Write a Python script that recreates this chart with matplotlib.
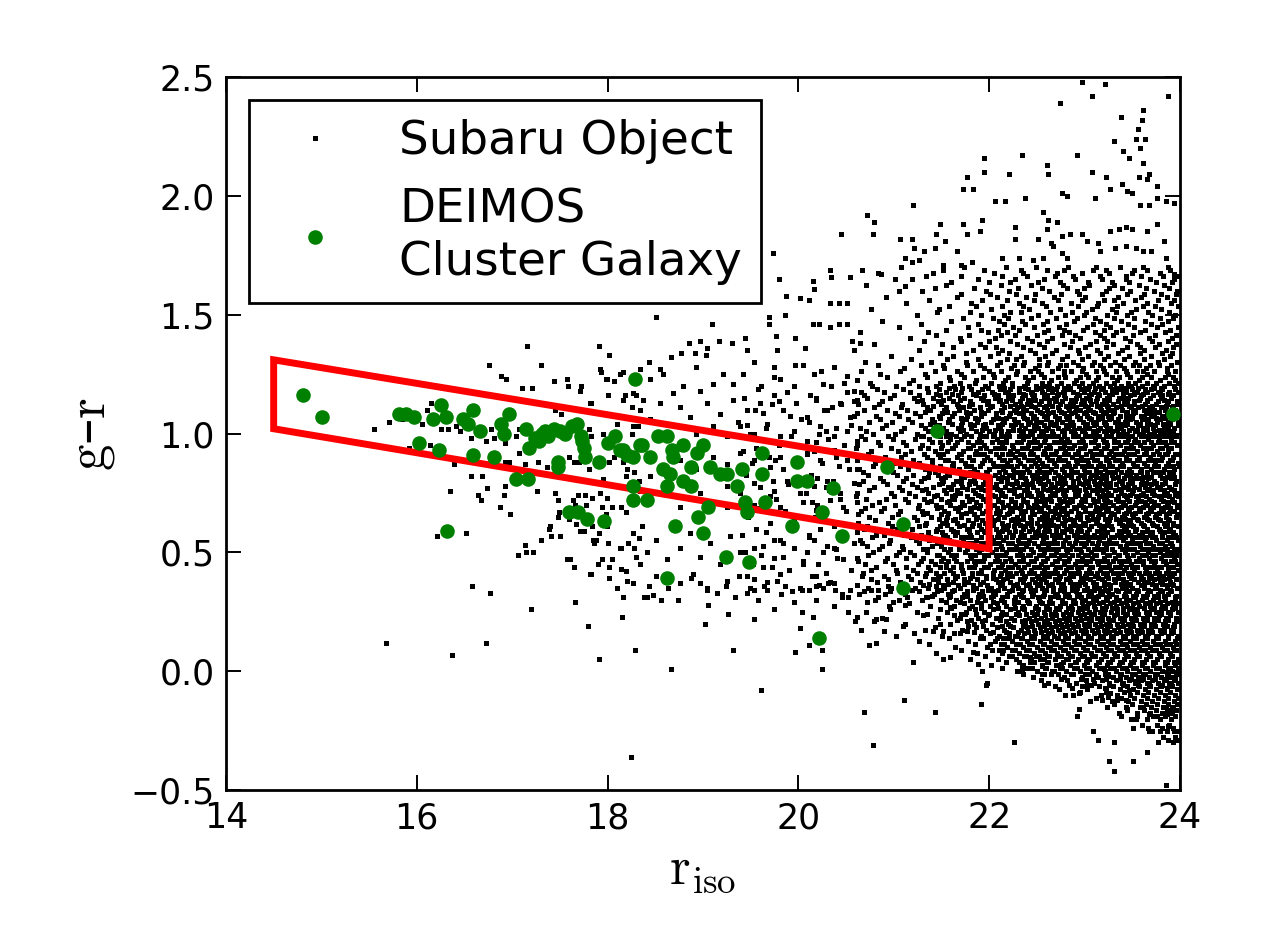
import matplotlib
matplotlib.use("Agg")
import matplotlib.pyplot as plt

# DEIMOS cluster galaxies (r_iso, g-r)
deimos_r = [14.81, 15.01, 15.81, 15.89, 15.97, 16.02, 16.17, 16.23, 16.25, 16.31, 16.32, 16.48, 16.54, 16.59,
            16.59, 16.66, 16.81, 16.88, 16.91, 16.97, 17.04, 17.14, 17.17, 17.18, 17.28, 17.34, 17.48, 17.48,
            17.50, 17.60, 17.68, 17.69, 17.73, 17.76, 17.78, 17.91, 17.96, 18.00, 18.08, 18.16, 18.27, 18.27,
            18.27, 18.29, 18.36, 18.41, 18.44, 18.53, 18.58, 18.62, 18.62, 18.62, 18.65, 18.68, 18.69, 18.71,
            18.79, 18.79, 18.88, 18.88, 18.94, 18.95, 19.00, 19.00, 19.05, 19.07, 19.18, 19.24, 19.25, 19.36,
            19.41, 19.44, 19.46, 19.48, 19.62, 19.62, 19.65, 19.93, 19.99, 19.99, 20.09, 20.22, 20.25, 20.36,
            20.46, 20.93, 21.10, 21.10, 21.45, 23.93,
            17.24, 17.31, 17.38, 17.44, 17.55, 17.63, 17.72, 17.75, 18.13, 18.20, 18.34]
deimos_gr = [1.16, 1.07, 1.08, 1.08, 1.07, 0.96, 1.06, 0.93, 1.12, 1.07, 0.59, 1.06, 1.04, 1.10,
             0.91, 1.01, 0.90, 1.04, 1.00, 1.08, 0.81, 1.02, 0.81, 0.94, 0.97, 1.01, 0.88, 0.86,
             1.01, 0.67, 1.04, 0.67, 0.97, 0.90, 0.64, 0.88, 0.63, 0.96, 0.99, 0.93, 0.90, 0.78,
             0.72, 1.23, 0.95, 0.72, 0.90, 0.99, 0.85, 0.99, 0.78, 0.39, 0.83, 0.93, 0.90, 0.61,
             0.95, 0.80, 0.86, 0.78, 0.92, 0.65, 0.95, 0.58, 0.69, 0.86, 0.83, 0.48, 0.83, 0.78,
             0.85, 0.71, 0.67, 0.46, 0.92, 0.83, 0.71, 0.61, 0.88, 0.80, 0.80, 0.14, 0.67, 0.77,
             0.57, 0.86, 0.62, 0.35, 1.01, 1.08,
             0.98, 1.00, 0.99, 1.02, 1.00, 1.03, 0.99, 0.94, 0.93, 0.91, 0.95]

# red selection box corners
box_r = [14.5, 22.0, 22.0, 14.5]
box_gr = [1.31, 0.815, 0.515, 1.02]

# Subaru objects read individually (sparse parts of the cloud)
subaru_pts = [
    (17.16, 1.37), (17.91, 1.37), (18.01, 1.33), (16.76, 1.29), (17.30, 1.29), (16.88, 1.24), (16.94, 1.23),
    (17.44, 1.22), (17.57, 1.23), (17.59, 1.20), (17.72, 1.20), (17.10, 1.19), (17.21, 1.19), (17.93, 1.26),
    (17.98, 1.23), (18.07, 1.22), (18.16, 1.26), (18.00, 1.16), (18.18, 1.16), (17.83, 1.13), (18.27, 1.17),
    (18.30, 1.16), (18.26, 1.11), (18.37, 1.14), (17.45, 1.10), (17.51, 1.08), (16.11, 1.10), (16.15, 1.13),
    (15.71, 1.05), (15.85, 1.06), (15.55, 1.02), (16.06, 1.04), (16.25, 1.02), (16.33, 1.02), (16.41, 1.03),
    (16.45, 1.01), (16.57, 0.98), (16.73, 0.97), (16.81, 0.98), (16.78, 1.02), (16.92, 0.96), (17.04, 0.99),
    (17.07, 1.02), (17.83, 0.99), (17.81, 1.02), (17.95, 1.00), (18.10, 1.04), (18.26, 1.00), (18.32, 1.03),
    (15.92, 0.94), (16.14, 0.95), (16.39, 0.87), (16.57, 0.82), (16.68, 0.82), (16.97, 0.88), (16.92, 0.88),
    (17.07, 0.92), (17.13, 0.87), (17.27, 0.88), (17.37, 0.86), (17.60, 0.90), (17.65, 0.88), (17.70, 0.88),
    (17.81, 0.85), (17.95, 0.81), (18.02, 0.88), (18.07, 0.90), (18.16, 0.88), (18.19, 0.82), (18.28, 0.84),
    (18.33, 0.80), (16.35, 0.76), (16.64, 0.74), (16.67, 0.72), (16.74, 0.77), (16.91, 0.74), (16.93, 0.78),
    (16.87, 0.69), (16.98, 0.66), (17.26, 0.76), (17.45, 0.75), (17.48, 0.72), (17.49, 0.67), (17.48, 0.65),
    (17.69, 0.74), (17.76, 0.74), (17.84, 0.73), (17.66, 0.70), (17.77, 0.70), (17.94, 0.69), (17.98, 0.66),
    (18.05, 0.69), (18.14, 0.69), (18.19, 0.67), (18.25, 0.71), (17.99, 0.73), (17.60, 0.64), (17.67, 0.62),
    (17.75, 0.59), (17.84, 0.61), (17.91, 0.58), (17.86, 0.54), (16.21, 0.57), (16.52, 0.58), (17.30, 0.55),
    (17.39, 0.60), (17.41, 0.57), (17.13, 0.53), (17.06, 0.49), (17.14, 0.50), (17.22, 0.50), (17.88, 0.55),
    (18.00, 0.54), (18.14, 0.52), (18.21, 0.54), (18.28, 0.52), (18.36, 0.61), (18.33, 0.56), (17.58, 0.47),
    (17.65, 0.44), (17.83, 0.41), (17.90, 0.45), (17.94, 0.47), (18.05, 0.47), (18.14, 0.43), (18.19, 0.42),
    (18.30, 0.48), (18.02, 0.39), (18.10, 0.35), (18.27, 0.37), (16.58, 0.36), (16.77, 0.33), (17.20, 0.26),
    (17.66, 0.29), (17.79, 0.19), (18.15, 0.23), (18.16, 0.31), (18.38, 0.31), (15.68, 0.12), (16.37, 0.07),
    (16.73, 0.12), (17.91, 0.05), (18.29, 0.09), (18.25, -0.36),
    # upper part
    (22.97, 2.48), (23.21, 2.47), (23.08, 2.42), (22.74, 2.39), (23.88, 2.42), (23.61, 2.36), (23.60, 2.32),
    (23.38, 2.33), (23.56, 2.28), (23.54, 2.24), (23.63, 2.24), (23.31, 2.23), (23.40, 2.19), (23.58, 2.20),
    (23.47, 2.16), (23.61, 2.14), (22.92, 2.17), (22.34, 2.17), (21.95, 2.16), (22.61, 2.13), (22.62, 2.09),
    (21.95, 2.10), (21.77, 2.08), (21.73, 2.03), (21.83, 2.03), (22.21, 2.09), (23.08, 2.10), (23.23, 2.08),
    (23.27, 2.03), (23.39, 2.05), (23.45, 2.02), (23.50, 2.01), (23.57, 2.08), (23.65, 2.07), (23.68, 2.09),
    (23.76, 2.04), (22.76, 2.01), (22.82, 2.00), (22.06, 1.98), (22.17, 1.98), (22.38, 1.99), (23.11, 1.99),
    (23.58, 1.96), (23.68, 1.96), (23.76, 1.99), (23.85, 1.98), (23.94, 1.97), (21.20, 1.96), (20.72, 1.92),
    (20.79, 1.89), (20.45, 1.84), (20.78, 1.84), (21.48, 1.88), (21.44, 1.84), (21.54, 1.81), (21.73, 1.88),
    (21.77, 1.84), (21.90, 1.85), (21.93, 1.90), (22.27, 1.87), (22.27, 1.82), (22.56, 1.93), (22.62, 1.90),
    (22.71, 1.89), (22.61, 1.86), (22.65, 1.80), (22.51, 1.82), (22.76, 1.83), (22.85, 1.84), (22.97, 1.84),
    (23.03, 1.81), (23.14, 1.80), (23.16, 1.77), (23.27, 1.85), (23.36, 1.86), (23.43, 1.87), (23.50, 1.86),
    (23.65, 1.85), (23.76, 1.88), (23.83, 1.81), (23.32, 1.78), (23.43, 1.79), (23.54, 1.78), (23.61, 1.77),
    (23.70, 1.77), (23.85, 1.74), (23.94, 1.67), (21.07, 1.82), (21.19, 1.82), (21.21, 1.78), (21.32, 1.77),
    (21.43, 1.78), (21.12, 1.74), (21.19, 1.72), (21.26, 1.73), (21.52, 1.71), (21.70, 1.71), (21.82, 1.72),
    (21.66, 1.77), (22.13, 1.74), (22.31, 1.74), (22.46, 1.73), (22.56, 1.74), (22.67, 1.79), (22.76, 1.76),
    (22.82, 1.74), (20.33, 1.69), (20.34, 1.66), (20.15, 1.64), (20.16, 1.61), (20.54, 1.66), (20.67, 1.69),
    (20.87, 1.67), (21.01, 1.65), (21.12, 1.62), (21.05, 1.60), (19.80, 1.65), (19.73, 1.76), (19.87, 1.58),
    (20.02, 1.57), (20.11, 1.56), (20.33, 1.55), (20.43, 1.55), (20.51, 1.55), (19.69, 1.49), (19.86, 1.50),
    (19.10, 1.46), (18.51, 1.49), (18.85, 1.38), (18.97, 1.39), (19.04, 1.36), (19.17, 1.39), (19.30, 1.38),
    (19.44, 1.40), (19.46, 1.35), (18.66, 1.32), (18.77, 1.34), (18.92, 1.34), (19.03, 1.33), (19.69, 1.46),
    (19.77, 1.41), (19.78, 1.35), (19.96, 1.40), (20.07, 1.36), (20.15, 1.46), (20.22, 1.46), (20.33, 1.45),
    (20.43, 1.46), (20.51, 1.46), (20.56, 1.39), (20.65, 1.38), (18.55, 1.27), (18.43, 1.30),
    # lower part
    (18.66, 0.01), (19.61, -0.08), (19.31, 0.09), (19.02, 0.20), (19.26, 0.24), (19.53, 0.22), (19.75, 0.26),
    (20.04, 0.25), (20.15, 0.23), (20.02, 0.18), (19.97, 0.08), (20.11, 0.11), (20.25, 0.09), (20.25, 0.01),
    (20.69, -0.17), (20.78, -0.31), (21.11, -0.12), (21.20, 0.04), (21.10, 0.19), (21.43, -0.17), (21.52, 0.05),
    (21.59, 0.06), (21.91, -0.14), (21.97, -0.06), (21.98, -0.05), (21.88, 0.03), (21.83, 0.08), (22.26, -0.30),
    (22.15, 0.09), (22.34, 0.02), (22.34, 0.00), (22.43, 0.06), (22.53, 0.05), (22.55, 0.02), (22.55, -0.01),
    (22.68, 0.00), (22.58, -0.06), (22.75, 0.03), (22.83, 0.05), (22.80, -0.10), (22.87, -0.07), (22.94, -0.09),
    (23.03, -0.06), (22.92, -0.19), (22.94, -0.16), (23.09, -0.25), (23.14, -0.29), (23.26, -0.38), (23.31, -0.42),
    (23.31, -0.30), (23.51, -0.38), (23.66, -0.34), (23.85, -0.48), (23.38, -0.19), (23.45, -0.16), (23.54, -0.20),
    (23.51, -0.24), (23.18, -0.12), (23.25, -0.11), (23.34, -0.12), (23.43, -0.12), (23.68, -0.18), (23.76, -0.19),
    (23.86, -0.18), (23.92, -0.16), (23.68, -0.25), (23.79, -0.25), (23.88, -0.23), (23.94, -0.25), (23.61, -0.15),
    (23.76, -0.14), (23.85, -0.15), (18.41, 0.31), (18.48, 0.32), (18.56, 0.30), (18.74, 0.30), (18.43, 0.36),
    (18.63, 0.35), (18.76, 0.37), (18.88, 0.39), (18.97, 0.37), (19.04, 0.35), (19.05, 0.28), (19.15, 0.33),
    (19.24, 0.36), (19.34, 0.31), (19.46, 0.33), (19.53, 0.34), (19.64, 0.36), (19.78, 0.38), (19.86, 0.36),
    (19.95, 0.29), (20.04, 0.34), (20.11, 0.34), (20.18, 0.36), (20.31, 0.37), (20.38, 0.34), (20.52, 0.31),
    (20.52, 0.25), (20.61, 0.23), (20.59, 0.21), (20.76, 0.34), (20.83, 0.34), (20.94, 0.36), (20.72, 0.29),
    (20.81, 0.22), (20.92, 0.22), (20.90, 0.17), (20.74, 0.11), (20.81, 0.12), (20.99, 0.29), (21.12, 0.28),
    (21.19, 0.34), (21.34, 0.31), (21.44, 0.36), (21.35, 0.24), (21.48, 0.20), (21.41, 0.17), (21.52, 0.17),
    (21.63, 0.16), (21.59, 0.27), (21.70, 0.24), (21.75, 0.24), (21.77, 0.17), (22.20, 0.14), (22.29, 0.15),
    (22.64, 0.10), (22.71, 0.07), (22.78, 0.09), (23.03, 0.05), (23.20, 0.01), (23.25, -0.02), (23.21, -0.07),
    (23.27, -0.09), (23.39, -0.05), (23.47, -0.08), (23.54, -0.04), (23.61, -0.01), (23.79, -0.06), (23.86, -0.07),
    # middle part
    (18.93, 1.28), (19.21, 1.25), (19.32, 1.21), (19.42, 1.25), (19.53, 1.30), (19.74, 1.28), (19.81, 1.23),
    (19.95, 1.20), (20.05, 1.29), (20.16, 1.25), (20.26, 1.21), (20.37, 1.28), (20.51, 1.24), (20.58, 1.18),
    (18.97, 1.18), (19.11, 1.21), (18.69, 1.17), (18.79, 1.20), (18.58, 1.25), (18.44, 1.23), (18.34, 1.27),
    (18.13, 1.25), (17.99, 1.23), (17.92, 1.27), (18.76, 1.11), (18.86, 1.07), (19.04, 1.13), (19.18, 1.08),
    (19.32, 1.14), (19.46, 1.10), (19.60, 1.13), (19.74, 1.16), (19.84, 1.10), (19.98, 1.13), (20.09, 1.07),
    (20.19, 1.14), (20.30, 1.10), (20.44, 1.13), (20.54, 1.07), (20.61, 1.14), (18.93, 1.00), (19.11, 1.03),
    (19.25, 0.99), (19.39, 1.03), (19.53, 1.00), (19.67, 1.04), (19.81, 0.99), (19.95, 1.01), (20.09, 0.97),
    (20.23, 1.03), (20.37, 0.99), (20.51, 1.01), (20.61, 0.97), (18.55, 1.13), (18.44, 1.06), (18.34, 1.10),
    (18.27, 1.03), (18.16, 1.14), (17.82, 1.13), (17.71, 1.18), (18.76, 0.89), (18.93, 0.85), (19.11, 0.90),
    (19.25, 0.87), (19.39, 0.92), (19.53, 0.89), (19.70, 0.86), (19.81, 0.90), (19.95, 0.87), (20.09, 0.92),
    (20.23, 0.89), (20.37, 0.93), (20.51, 0.89), (20.61, 0.85), (19.25, 0.78), (19.39, 0.75), (19.53, 0.79),
    (19.74, 0.76), (19.88, 0.80), (20.02, 0.75), (20.16, 0.78), (20.30, 0.80), (20.44, 0.75), (20.58, 0.79),
    (18.97, 0.75), (18.76, 0.69), (19.11, 0.71), (19.25, 0.69), (19.46, 0.68), (19.67, 0.71), (19.81, 0.69),
    (20.05, 0.71), (20.19, 0.68), (20.33, 0.72), (20.47, 0.69), (20.61, 0.71), (18.44, 0.82), (18.34, 0.76),
    (18.20, 0.85), (18.09, 0.78), (17.92, 0.75), (17.82, 0.80), (17.64, 0.72), (17.40, 0.61), (17.50, 0.57),
    (17.71, 0.59), (17.85, 0.55), (17.99, 0.61), (18.13, 0.52), (18.27, 0.58), (18.41, 0.50), (18.51, 0.55),
    (18.62, 0.47), (18.76, 0.52), (18.86, 0.58), (18.97, 0.48), (19.07, 0.54), (19.18, 0.45), (19.28, 0.57),
    (19.39, 0.50), (19.53, 0.52), (19.63, 0.44), (19.74, 0.55), (19.84, 0.48), (19.95, 0.52), (20.05, 0.45),
    (20.16, 0.55), (20.26, 0.50), (20.37, 0.52), (20.47, 0.47), (20.58, 0.54), (17.61, 0.47), (17.82, 0.41),
    (18.02, 0.44), (18.20, 0.38), (18.34, 0.45), (18.51, 0.40), (18.76, 0.37), (18.90, 0.41), (19.04, 0.34),
    (19.25, 0.38), (19.46, 0.40), (19.67, 0.34), (19.81, 0.41), (20.02, 0.35), (20.19, 0.40), (20.37, 0.37),
    (20.54, 0.34),
]

# Subaru objects in the crowded part, read row by row: (g-r, [r_iso, ...])
subaru_rows = [
    (1.700, [21.08, 21.74, 22.18, 22.49, 22.83, 23.12, 23.37, 23.61, 23.88]),
    (1.675, [20.83, 21.41, 22.05, 22.36, 22.71, 22.97, 23.26, 23.50, 23.79]),
    (1.650, [21.19, 21.88, 22.27, 22.58, 22.90, 23.18, 23.43, 23.69, 23.94]),
    (1.625, [20.71, 21.55, 22.12, 22.44, 22.77, 23.05, 23.31, 23.57, 23.83]),
    (1.600, [21.30, 21.97, 22.21, 22.63, 22.92, 23.22, 23.48, 23.73, 23.97]),
    (1.575, [20.92, 21.66, 22.08, 22.39, 22.68, 23.01, 23.35, 23.59, 23.86]),
    (1.550, [21.13, 21.81, 22.31, 22.55, 22.86, 23.14, 23.40, 23.66, 23.91]),
    (1.525, [20.76, 21.47, 22.02, 22.42, 22.74, 23.08, 23.29, 23.54, 23.80]),
    (1.500, [21.24, 21.92, 22.16, 22.51, 22.80, 22.99, 23.24, 23.45, 23.71, 23.95]),
    (1.475, [20.88, 21.60, 22.10, 22.34, 22.61, 22.89, 23.16, 23.38, 23.63, 23.87]),
    (1.450, [21.05, 21.78, 22.25, 22.47, 22.73, 23.03, 23.27, 23.52, 23.76, 23.98]),
    (1.425, [20.65, 21.36, 21.99, 22.19, 22.57, 22.84, 23.11, 23.33, 23.58, 23.84]),
    (1.400, [21.17, 21.69, 22.06, 22.40, 22.66, 22.95, 23.20, 23.42, 23.68, 23.92]),
    (1.375, [20.79, 21.51, 21.90, 22.29, 22.52, 22.78, 23.06, 23.30, 23.55, 23.78, 23.96]),
    (1.350, [20.58, 21.27, 21.83, 22.14, 22.43, 22.70, 22.93, 23.13, 23.39, 23.62, 23.85]),
    (1.325, [20.97, 21.62, 22.01, 22.33, 22.59, 22.82, 23.04, 23.25, 23.47, 23.70, 23.90]),
    (1.300, [20.70, 21.39, 21.76, 22.11, 22.37, 22.62, 22.88, 23.10, 23.32, 23.53, 23.77, 23.97]),
    (1.275, [21.11, 21.53, 21.95, 22.23, 22.48, 22.72, 22.98, 23.19, 23.41, 23.64, 23.86]),
    (1.250, [20.86, 21.33, 21.71, 22.04, 22.28, 22.54, 22.79, 23.02, 23.23, 23.45, 23.66, 23.88]),
    (1.225, [20.62, 21.20, 21.59, 21.86, 22.17, 22.41, 22.65, 22.91, 23.12, 23.34, 23.57, 23.79, 23.95]),
    (1.200, [19.61, 20.34, 20.77, 21.02, 21.26, 21.44, 21.63, 21.79, 21.96, 22.10, 22.24, 22.37, 22.49, 22.60,
             22.71, 22.83, 22.94, 23.05, 23.15, 23.27, 23.38, 23.49, 23.60, 23.72, 23.83, 23.94]),
    (1.175, [19.88, 20.51, 20.66, 20.90, 21.17, 21.36, 21.55, 21.70, 21.88, 22.03, 22.17, 22.31, 22.44, 22.55,
             22.66, 22.77, 22.88, 22.99, 23.10, 23.21, 23.33, 23.43, 23.55, 23.66, 23.77, 23.89, 23.98]),
    (1.150, [19.43, 20.19, 20.72, 20.96, 21.21, 21.41, 21.58, 21.74, 21.91, 22.06, 22.20, 22.34, 22.46, 22.57,
             22.68, 22.80, 22.91, 23.02, 23.13, 23.24, 23.36, 23.46, 23.58, 23.69, 23.80, 23.91]),
    (1.125, [19.72, 20.45, 20.63, 20.85, 21.09, 21.31, 21.50, 21.66, 21.82, 21.98, 22.13, 22.27, 22.40, 22.52,
             22.63, 22.74, 22.85, 22.96, 23.07, 23.18, 23.30, 23.41, 23.52, 23.63, 23.75, 23.86, 23.97]),
    (1.100, [19.55, 20.27, 20.69, 20.93, 21.14, 21.38, 21.53, 21.68, 21.84, 21.99, 22.12, 22.26, 22.39, 22.50,
             22.61, 22.73, 22.84, 22.95, 23.06, 23.17, 23.28, 23.39, 23.51, 23.62, 23.73, 23.84, 23.95]),
    (1.075, [19.91, 20.58, 20.81, 21.05, 21.28, 21.47, 21.61, 21.77, 21.92, 22.07, 22.21, 22.35, 22.47, 22.58,
             22.69, 22.81, 22.92, 23.03, 23.14, 23.25, 23.37, 23.47, 23.59, 23.70, 23.81, 23.92]),
    (1.050, [19.37, 20.11, 20.74, 20.98, 21.19, 21.42, 21.57, 21.72, 21.87, 22.02, 22.16, 22.30, 22.43, 22.54,
             22.65, 22.76, 22.87, 22.98, 23.09, 23.20, 23.32, 23.42, 23.54, 23.65, 23.76, 23.87, 23.98]),
    (1.025, [19.66, 20.39, 20.65, 20.88, 21.11, 21.33, 21.52, 21.67, 21.81, 21.97, 22.11, 22.25, 22.38, 22.51,
             22.62, 22.72, 22.83, 22.94, 23.05, 23.16, 23.27, 23.38, 23.50, 23.61, 23.72, 23.83, 23.94]),
    (1.000, [19.49, 20.22, 20.78, 21.01, 21.24, 21.45, 21.60, 21.76, 21.90, 22.05, 22.19, 22.33, 22.45, 22.56,
             22.67, 22.79, 22.90, 23.01, 23.12, 23.23, 23.35, 23.45, 23.57, 23.68, 23.79, 23.90]),
    (0.975, [19.58, 20.31, 20.70, 20.99, 21.22, 21.37, 21.59, 21.71, 21.89, 22.08, 22.18, 22.36, 22.47, 22.59,
             22.75, 22.82, 22.97, 23.11, 23.19, 23.31, 23.46, 23.53, 23.67, 23.78, 23.91]),
    (0.950, [19.80, 20.48, 20.61, 20.86, 21.13, 21.30, 21.51, 21.64, 21.83, 21.95, 22.13, 22.24, 22.41, 22.53,
             22.63, 22.78, 22.89, 23.00, 23.14, 23.24, 23.37, 23.49, 23.58, 23.72, 23.85, 23.97]),
    (0.925, [19.42, 20.16, 20.76, 21.04, 21.18, 21.43, 21.56, 21.73, 21.86, 22.01, 22.22, 22.29, 22.44, 22.57,
             22.70, 22.80, 22.93, 23.06, 23.17, 23.28, 23.41, 23.55, 23.64, 23.76, 23.88]),
    (0.900, [19.69, 20.40, 20.67, 20.91, 21.08, 21.35, 21.48, 21.66, 21.79, 21.98, 22.10, 22.27, 22.37, 22.50,
             22.61, 22.73, 22.87, 22.96, 23.08, 23.22, 23.30, 23.44, 23.57, 23.69, 23.81, 23.93]),
    (0.875, [19.51, 20.25, 20.80, 21.00, 21.26, 21.40, 21.62, 21.75, 21.93, 22.04, 22.19, 22.32, 22.48, 22.55,
             22.68, 22.83, 22.92, 23.04, 23.16, 23.26, 23.39, 23.51, 23.62, 23.74, 23.87, 23.98]),
    (0.850, [19.84, 20.53, 20.64, 20.95, 21.15, 21.33, 21.54, 21.68, 21.84, 22.00, 22.15, 22.25, 22.40, 22.52,
             22.65, 22.76, 22.86, 22.99, 23.12, 23.21, 23.34, 23.47, 23.59, 23.70, 23.83, 23.94]),
    (0.825, [19.45, 20.13, 20.73, 21.03, 21.20, 21.46, 21.58, 21.78, 21.91, 22.06, 22.21, 22.34, 22.45, 22.58,
             22.72, 22.81, 22.95, 23.07, 23.18, 23.29, 23.43, 23.54, 23.65, 23.79, 23.90]),
    (0.800, [19.73, 20.36, 20.68, 20.89, 21.10, 21.29, 21.52, 21.65, 21.80, 21.96, 22.12, 22.28, 22.39, 22.51,
             22.62, 22.74, 22.88, 23.01, 23.10, 23.23, 23.36, 23.48, 23.60, 23.73, 23.84, 23.96]),
    (0.775, [19.60, 20.29, 20.79, 21.06, 21.24, 21.41, 21.57, 21.72, 21.88, 22.03, 22.17, 22.31, 22.46, 22.56,
             22.69, 22.84, 22.91, 23.05, 23.15, 23.27, 23.40, 23.52, 23.63, 23.76, 23.89]),
    (0.750, [19.39, 20.08, 20.62, 20.97, 21.16, 21.36, 21.55, 21.69, 21.85, 21.99, 22.14, 22.26, 22.42, 22.54,
             22.66, 22.77, 22.90, 23.02, 23.13, 23.25, 23.38, 23.50, 23.61, 23.71, 23.86, 23.97]),
    (0.725, [19.77, 20.44, 20.71, 20.92, 21.12, 21.32, 21.50, 21.63, 21.82, 21.94, 22.09, 22.23, 22.36, 22.49,
             22.60, 22.73, 22.85, 22.97, 23.09, 23.20, 23.33, 23.45, 23.56, 23.68, 23.80, 23.92]),
    (0.700, [19.53, 20.20, 20.77, 21.01, 21.27, 21.44, 21.59, 21.74, 21.90, 22.05, 22.20, 22.33, 22.47, 22.57,
             22.71, 22.82, 22.94, 23.06, 23.18, 23.30, 23.42, 23.53, 23.66, 23.77, 23.88, 23.98]),
    (0.675, [19.86, 20.50, 20.66, 20.87, 21.07, 21.30, 21.53, 21.67, 21.81, 21.97, 22.11, 22.24, 22.38, 22.52,
             22.64, 22.75, 22.86, 23.00, 23.11, 23.22, 23.35, 23.47, 23.58, 23.70, 23.82, 23.94]),
    (0.650, [19.47, 20.17, 20.74, 20.98, 21.21, 21.39, 21.56, 21.71, 21.87, 22.02, 22.16, 22.29, 22.43, 22.55,
             22.67, 22.79, 22.92, 23.03, 23.14, 23.27, 23.39, 23.51, 23.62, 23.74, 23.85, 23.96]),
    (0.625, [19.70, 20.38, 20.63, 20.94, 21.14, 21.34, 21.51, 21.66, 21.83, 21.96, 22.13, 22.27, 22.40, 22.50,
             22.63, 22.76, 22.88, 22.98, 23.12, 23.24, 23.36, 23.46, 23.59, 23.71, 23.83, 23.93]),
    (0.600, [19.56, 20.23, 20.69, 21.03, 21.19, 21.45, 21.60, 21.77, 21.92, 22.07, 22.19, 22.35, 22.45, 22.59,
             22.70, 22.81, 22.93, 23.05, 23.17, 23.29, 23.41, 23.54, 23.65, 23.78, 23.90]),
    (0.575, [19.41, 20.11, 20.81, 20.90, 21.11, 21.29, 21.54, 21.64, 21.80, 22.00, 22.10, 22.25, 22.37, 22.53,
             22.66, 22.74, 22.89, 23.01, 23.10, 23.21, 23.34, 23.48, 23.57, 23.69, 23.81, 23.95]),
    (0.550, [19.81, 20.47, 20.65, 20.96, 21.23, 21.37, 21.58, 21.73, 21.86, 22.04, 22.15, 22.30, 22.42, 22.56,
             22.68, 22.80, 22.91, 23.04, 23.15, 23.26, 23.40, 23.50, 23.63, 23.75, 23.86, 23.98]),
    (0.525, [19.63, 20.30, 20.72, 20.88, 21.09, 21.40, 21.50, 21.68, 21.84, 21.98, 22.12, 22.28, 22.39, 22.51,
             22.62, 22.77, 22.87, 22.99, 23.13, 23.23, 23.37, 23.44, 23.58, 23.72, 23.84, 23.92]),
    (0.500, [19.44, 20.09, 20.78, 21.05, 21.17, 21.35, 21.57, 21.75, 21.89, 22.03, 22.18, 22.32, 22.46, 22.58,
             22.70, 22.82, 22.96, 23.07, 23.19, 23.31, 23.42, 23.55, 23.67, 23.79, 23.91]),
    (0.475, [19.75, 20.41, 20.61, 20.93, 21.13, 21.31, 21.52, 21.63, 21.81, 21.95, 22.08, 22.22, 22.36, 22.49,
             22.61, 22.73, 22.84, 22.97, 23.08, 23.20, 23.32, 23.46, 23.57, 23.68, 23.80, 23.94]),
    (0.450, [19.52, 20.21, 20.70, 20.99, 21.25, 21.43, 21.55, 21.70, 21.85, 22.01, 22.14, 22.27, 22.41, 22.54,
             22.66, 22.78, 22.90, 23.02, 23.14, 23.26, 23.38, 23.49, 23.61, 23.73, 23.85, 23.97]),
    (0.425, [19.90, 20.55, 20.76, 21.02, 21.20, 21.38, 21.59, 21.72, 21.91, 22.05, 22.17, 22.33, 22.44, 22.57,
             22.69, 22.81, 22.93, 23.05, 23.16, 23.28, 23.41, 23.52, 23.64, 23.76, 23.87, 23.98]),
    (0.400, [19.38, 20.14, 20.67, 20.90, 21.15, 21.33, 21.49, 21.66, 21.82, 21.97, 22.11, 22.24, 22.38, 22.50,
             22.63, 22.74, 22.88, 23.00, 23.11, 23.23, 23.35, 23.47, 23.59, 23.70, 23.82, 23.92]),
    (0.375, [19.67, 20.33, 20.82, 21.07, 21.28, 21.46, 21.62, 21.78, 21.94, 22.09, 22.22, 22.35, 22.48, 22.60,
             22.72, 22.85, 22.95, 23.09, 23.20, 23.32, 23.44, 23.56, 23.67, 23.79, 23.90]),
    (0.350, [19.49, 20.26, 20.73, 20.97, 21.22, 21.36, 21.53, 21.69, 21.86, 22.02, 22.16, 22.30, 22.43, 22.55,
             22.67, 22.79, 22.92, 23.03, 23.15, 23.27, 23.39, 23.50, 23.62, 23.74, 23.86, 23.97]),
    (0.325, [19.82, 20.46, 20.64, 20.91, 21.12, 21.42, 21.57, 21.74, 21.89, 22.06, 22.19, 22.31, 22.46, 22.58,
             22.71, 22.83, 22.94, 23.07, 23.18, 23.29, 23.42, 23.54, 23.65, 23.77, 23.88]),
    (0.300, [19.58, 20.18, 20.80, 21.06, 21.30, 21.50, 21.65, 21.80, 21.96, 22.12, 22.26, 22.40, 22.52, 22.64,
             22.76, 22.89, 23.01, 23.12, 23.24, 23.36, 23.48, 23.60, 23.72, 23.84, 23.95]),
    (0.275, [20.37, 20.95, 21.38, 21.63, 21.82, 22.01, 22.18, 22.36, 22.49, 22.61, 22.74, 22.86, 22.98, 23.10,
             23.22, 23.33, 23.45, 23.57, 23.69, 23.81, 23.93]),
    (0.250, [20.71, 21.24, 21.56, 21.76, 21.95, 22.14, 22.30, 22.45, 22.57, 22.69, 22.81, 22.93, 23.05, 23.16,
             23.28, 23.40, 23.52, 23.64, 23.75, 23.87, 23.98]),
    (0.225, [20.88, 21.46, 21.69, 21.88, 22.07, 22.23, 22.42, 22.54, 22.66, 22.78, 22.90, 23.02, 23.13, 23.25,
             23.37, 23.49, 23.61, 23.73, 23.85, 23.96]),
    (0.200, [21.12, 21.59, 21.84, 22.03, 22.20, 22.38, 22.51, 22.63, 22.75, 22.87, 22.99, 23.11, 23.23, 23.34,
             23.46, 23.58, 23.70, 23.82, 23.94]),
    (0.175, [20.66, 21.33, 21.72, 21.97, 22.16, 22.33, 22.47, 22.60, 22.72, 22.84, 22.96, 23.08, 23.20, 23.31,
             23.43, 23.55, 23.67, 23.79, 23.91]),
    (0.150, [21.02, 21.51, 21.91, 22.10, 22.27, 22.44, 22.56, 22.68, 22.80, 22.92, 23.04, 23.16, 23.28, 23.40,
             23.51, 23.63, 23.75, 23.87, 23.98]),
    (0.125, [21.27, 21.78, 22.06, 22.24, 22.40, 22.53, 22.65, 22.77, 22.89, 23.01, 23.13, 23.25, 23.37, 23.48,
             23.60, 23.72, 23.84, 23.95]),
    (0.100, [21.64, 21.98, 22.19, 22.36, 22.50, 22.62, 22.74, 22.86, 22.98, 23.10, 23.22, 23.34, 23.45, 23.57,
             23.69, 23.81, 23.93]),
    (0.075, [21.44, 21.87, 22.13, 22.31, 22.47, 22.59, 22.71, 22.83, 22.95, 23.07, 23.19, 23.31, 23.42, 23.54,
             23.66, 23.78, 23.90]),
    (0.050, [21.80, 22.09, 22.28, 22.44, 22.57, 22.69, 22.81, 22.93, 23.05, 23.17, 23.29, 23.41, 23.52, 23.64,
             23.76, 23.88, 23.98]),
    (0.025, [22.02, 22.35, 22.55, 22.70, 22.85, 22.99, 23.12, 23.24, 23.36, 23.48, 23.60, 23.72, 23.84, 23.95]),
    (0.000, [21.93, 22.29, 22.50, 22.66, 22.81, 22.95, 23.08, 23.21, 23.33, 23.45, 23.57, 23.69, 23.81, 23.92]),
    (-0.025, [22.46, 22.78, 22.97, 23.14, 23.30, 23.44, 23.56, 23.68, 23.80, 23.91]),
    (-0.050, [22.62, 22.91, 23.10, 23.26, 23.40, 23.53, 23.65, 23.77, 23.89, 23.98]),
    (-0.075, [22.73, 23.03, 23.22, 23.37, 23.51, 23.63, 23.75, 23.86, 23.97]),
    (-0.100, [22.88, 23.17, 23.34, 23.48, 23.61, 23.73, 23.84, 23.95]),
    (-0.125, [23.06, 23.29, 23.46, 23.59, 23.71, 23.83, 23.94]),
    (-0.150, [23.24, 23.43, 23.58, 23.70, 23.82, 23.93]),
    (-0.175, [23.36, 23.55, 23.69, 23.81, 23.92]),
    (-0.200, [23.49, 23.66, 23.79, 23.91]),
    (-0.225, [23.60, 23.76, 23.89]),
    (-0.250, [23.71, 23.86, 23.97]),
    (-0.275, [23.82, 23.95]),
    (-0.300, [23.77, 23.93]),
]

# second pass over the crowded part, rows between the ones above
subaru_rows_b = [
    (1.6875, [21.52, 21.95, 22.33, 22.61, 22.78, 23.09, 23.23, 23.52, 23.66, 23.90]),
    (1.6625, [21.34, 21.71, 22.14, 22.40, 22.69, 22.88, 23.16, 23.44, 23.59, 23.82, 23.99]),
    (1.6375, [21.60, 22.00, 22.22, 22.51, 22.74, 23.04, 23.29, 23.47, 23.75, 23.92]),
    (1.6125, [21.43, 21.84, 22.30, 22.55, 22.82, 22.99, 23.26, 23.39, 23.64, 23.89]),
    (1.5875, [21.71, 22.01, 22.28, 22.48, 22.75, 22.94, 23.18, 23.45, 23.62, 23.80, 23.96]),
    (1.5625, [21.37, 21.93, 22.19, 22.47, 22.72, 22.97, 23.20, 23.31, 23.53, 23.77, 23.94]),
    (1.5375, [21.58, 21.86, 22.13, 22.36, 22.60, 22.93, 23.13, 23.34, 23.61, 23.74, 23.98]),
    (1.5125, [21.45, 21.80, 22.22, 22.33, 22.64, 22.87, 23.02, 23.33, 23.49, 23.67, 23.89]),
    (1.4875, [21.73, 22.04, 22.20, 22.44, 22.70, 22.92, 23.11, 23.31, 23.52, 23.79, 23.93]),
    (1.4625, [21.29, 21.88, 22.16, 22.38, 22.56, 22.81, 23.09, 23.22, 23.46, 23.70, 23.81]),
    (1.4375, [21.55, 21.91, 22.09, 22.31, 22.62, 22.79, 22.98, 23.20, 23.39, 23.63, 23.90]),
    (1.4125, [21.44, 21.79, 22.12, 22.27, 22.50, 22.76, 22.90, 23.16, 23.30, 23.51, 23.74, 23.96]),
    (1.3875, [21.32, 21.70, 22.00, 22.22, 22.45, 22.61, 22.87, 23.12, 23.24, 23.48, 23.71, 23.88]),
    (1.3625, [21.62, 21.96, 22.07, 22.35, 22.58, 22.85, 23.00, 23.22, 23.45, 23.58, 23.74, 23.93]),
    (1.3375, [21.48, 21.76, 22.09, 22.21, 22.48, 22.66, 22.94, 23.16, 23.35, 23.58, 23.81, 23.92]),
    (1.3125, [21.18, 21.56, 21.88, 22.19, 22.28, 22.52, 22.76, 22.97, 23.20, 23.41, 23.62, 23.83]),
    (1.2875, [19.97, 20.84, 21.29, 21.52, 21.77, 21.90, 22.08, 22.26, 22.35, 22.52, 22.61, 22.74, 22.81, 22.93,
              23.08, 23.16, 23.27, 23.37, 23.51, 23.57, 23.69, 23.78, 23.91]),
    (1.2625, [20.24, 20.66, 21.07, 21.43, 21.66, 21.83, 22.00, 22.12, 22.29, 22.43, 22.51, 22.66, 22.78, 22.86,
              22.97, 23.12, 23.20, 23.33, 23.43, 23.55, 23.61, 23.73, 23.86, 23.95]),
    (1.2375, [19.75, 20.93, 21.35, 21.58, 21.74, 21.94, 22.05, 22.20, 22.38, 22.46, 22.58, 22.72, 22.80, 22.95,
              23.04, 23.14, 23.29, 23.36, 23.48, 23.60, 23.70, 23.84, 23.93]),
    (1.2125, [20.48, 20.75, 21.16, 21.49, 21.69, 21.85, 22.02, 22.15, 22.24, 22.40, 22.55, 22.63, 22.75, 22.89,
              22.97, 23.09, 23.22, 23.31, 23.46, 23.53, 23.66, 23.75, 23.89, 23.98]),
    (1.1875, [19.58, 20.82, 21.10, 21.47, 21.64, 21.81, 21.93, 22.11, 22.22, 22.41, 22.49, 22.62, 22.70, 22.83,
              22.96, 23.04, 23.17, 23.29, 23.38, 23.50, 23.63, 23.70, 23.81, 23.95]),
    (1.1625, [20.12, 20.69, 21.00, 21.27, 21.49, 21.67, 21.86, 21.95, 22.09, 22.25, 22.38, 22.47, 22.61, 22.71,
              22.79, 22.94, 23.05, 23.15, 23.26, 23.40, 23.48, 23.59, 23.72, 23.81, 23.93]),
    (1.1375, [19.80, 20.58, 20.88, 21.24, 21.46, 21.62, 21.80, 21.99, 22.10, 22.18, 22.32, 22.43, 22.54, 22.69,
              22.76, 22.90, 22.99, 23.12, 23.22, 23.35, 23.45, 23.52, 23.66, 23.77, 23.87, 23.97]),
    (1.1125, [20.35, 20.79, 21.08, 21.35, 21.55, 21.73, 21.90, 22.01, 22.16, 22.29, 22.35, 22.48, 22.58, 22.72,
              22.83, 22.91, 23.04, 23.16, 23.25, 23.33, 23.49, 23.56, 23.68, 23.80, 23.92]),
    (1.0875, [19.63, 20.62, 21.01, 21.22, 21.51, 21.63, 21.80, 21.95, 22.07, 22.22, 22.31, 22.44, 22.55, 22.62,
              22.78, 22.86, 22.99, 23.11, 23.19, 23.30, 23.43, 23.51, 23.64, 23.73, 23.86, 23.96]),
    (1.0625, [20.03, 20.86, 21.15, 21.40, 21.58, 21.76, 21.88, 22.04, 22.15, 22.26, 22.40, 22.49, 22.60, 22.71,
              22.82, 22.94, 23.07, 23.14, 23.26, 23.35, 23.48, 23.60, 23.67, 23.79, 23.92]),
    (1.0375, [19.46, 20.55, 20.92, 21.29, 21.47, 21.70, 21.84, 21.94, 22.09, 22.23, 22.33, 22.47, 22.57, 22.68,
              22.81, 22.88, 23.01, 23.10, 23.23, 23.34, 23.42, 23.56, 23.66, 23.74, 23.88, 23.98]),
    (1.0125, [20.29, 20.71, 21.08, 21.36, 21.55, 21.69, 21.86, 22.00, 22.12, 22.20, 22.36, 22.43, 22.54, 22.66,
              22.76, 22.86, 22.97, 23.09, 23.20, 23.29, 23.40, 23.53, 23.61, 23.73, 23.83, 23.93]),
    (0.9875, [19.92, 20.66, 20.94, 21.29, 21.48, 21.65, 21.81, 21.97, 22.04, 22.16, 22.31, 22.41, 22.52, 22.67,
              22.72, 22.88, 23.03, 23.08, 23.25, 23.36, 23.42, 23.59, 23.63, 23.74, 23.85, 23.96]),
    (0.9625, [20.18, 20.83, 21.10, 21.40, 21.57, 21.78, 21.92, 22.10, 22.18, 22.33, 22.46, 22.50, 22.68, 22.76,
              22.84, 22.94, 23.07, 23.20, 23.31, 23.42, 23.52, 23.62, 23.77, 23.80, 23.94]),
    (0.9375, [19.56, 20.60, 20.97, 21.28, 21.50, 21.62, 21.80, 21.90, 22.06, 22.16, 22.34, 22.40, 22.51, 22.64,
              22.74, 22.87, 22.99, 23.11, 23.22, 23.33, 23.48, 23.61, 23.70, 23.81, 23.91]),
    (0.9125, [20.09, 20.73, 21.12, 21.32, 21.46, 21.68, 21.85, 21.95, 22.14, 22.24, 22.32, 22.46, 22.56, 22.65,
              22.78, 22.90, 23.02, 23.12, 23.26, 23.36, 23.46, 23.52, 23.64, 23.78, 23.86, 23.97]),
    (0.8875, [19.76, 20.61, 20.86, 21.20, 21.54, 21.71, 21.82, 22.01, 22.13, 22.22, 22.41, 22.46, 22.63, 22.72,
              22.80, 22.96, 23.03, 23.13, 23.23, 23.32, 23.47, 23.57, 23.67, 23.76, 23.92]),
    (0.8625, [20.43, 20.78, 21.07, 21.25, 21.49, 21.61, 21.76, 21.90, 22.08, 22.18, 22.29, 22.37, 22.56, 22.61,
              22.79, 22.84, 22.97, 23.07, 23.19, 23.29, 23.40, 23.55, 23.66, 23.77, 23.88, 23.99]),
    (0.8375, [19.62, 20.68, 20.99, 21.37, 21.56, 21.68, 21.87, 21.97, 22.10, 22.26, 22.36, 22.50, 22.61, 22.69,
              22.86, 22.92, 23.05, 23.12, 23.24, 23.38, 23.49, 23.59, 23.72, 23.82, 23.93]),
    (0.8125, [20.20, 20.86, 21.13, 21.32, 21.50, 21.71, 21.84, 22.01, 22.09, 22.19, 22.38, 22.46, 22.55, 22.68,
              22.79, 22.93, 23.06, 23.17, 23.30, 23.41, 23.53, 23.57, 23.67, 23.81, 23.91]),
    (0.7875, [19.89, 20.64, 20.93, 21.19, 21.47, 21.62, 21.79, 21.94, 22.07, 22.24, 22.35, 22.41, 22.59, 22.65,
              22.76, 22.88, 22.98, 23.11, 23.21, 23.33, 23.46, 23.59, 23.70, 23.81, 23.95]),
    (0.7625, [20.32, 20.74, 21.09, 21.30, 21.53, 21.66, 21.83, 21.96, 22.11, 22.21, 22.37, 22.50, 22.62, 22.71,
              22.81, 22.94, 23.08, 23.18, 23.32, 23.38, 23.51, 23.66, 23.72, 23.83, 23.94]),
    (0.7375, [19.70, 20.60, 21.00, 21.22, 21.42, 21.61, 21.77, 21.92, 22.06, 22.17, 22.29, 22.44, 22.55, 22.64,
              22.80, 22.90, 23.00, 23.15, 23.23, 23.35, 23.43, 23.54, 23.64, 23.78, 23.89, 23.98]),
    (0.7125, [20.14, 20.85, 21.15, 21.35, 21.56, 21.72, 21.86, 22.00, 22.14, 22.27, 22.40, 22.49, 22.59, 22.74,
              22.84, 22.96, 23.10, 23.21, 23.27, 23.40, 23.54, 23.63, 23.73, 23.86, 23.94]),
    (0.6875, [19.59, 20.70, 20.90, 21.25, 21.45, 21.64, 21.80, 21.89, 22.08, 22.22, 22.32, 22.45, 22.54, 22.69,
              22.78, 22.91, 23.01, 23.16, 23.25, 23.33, 23.46, 23.57, 23.69, 23.80, 23.90]),
    (0.6625, [20.26, 20.63, 21.04, 21.31, 21.50, 21.70, 21.84, 21.99, 22.10, 22.19, 22.35, 22.47, 22.61, 22.73,
              22.82, 22.95, 23.08, 23.19, 23.31, 23.41, 23.50, 23.64, 23.75, 23.85, 23.97]),
    (0.6375, [19.95, 20.80, 21.09, 21.24, 21.55, 21.62, 21.78, 21.93, 22.05, 22.23, 22.30, 22.44, 22.57, 22.65,
              22.80, 22.89, 23.04, 23.13, 23.26, 23.37, 23.48, 23.56, 23.68, 23.79, 23.89]),
    (0.6125, [20.37, 20.72, 20.98, 21.27, 21.48, 21.68, 21.82, 21.98, 22.15, 22.26, 22.38, 22.52, 22.62, 22.72,
              22.85, 22.95, 23.07, 23.20, 23.28, 23.44, 23.51, 23.62, 23.76, 23.84, 23.98]),
    (0.5875, [19.66, 20.62, 21.06, 21.36, 21.51, 21.66, 21.87, 21.96, 22.09, 22.21, 22.33, 22.48, 22.58, 22.70,
              22.79, 22.92, 23.03, 23.17, 23.24, 23.38, 23.46, 23.60, 23.71, 23.83, 23.93]),
    (0.5625, [20.11, 20.77, 21.18, 21.34, 21.56, 21.71, 21.81, 22.02, 22.11, 22.24, 22.37, 22.45, 22.60, 22.74,
              22.83, 22.98, 23.09, 23.19, 23.31, 23.42, 23.55, 23.64, 23.74, 23.87, 23.96]),
    (0.5375, [19.84, 20.67, 20.95, 21.26, 21.45, 21.63, 21.78, 21.92, 22.05, 22.20, 22.31, 22.41, 22.55, 22.66,
              22.77, 22.90, 23.02, 23.14, 23.26, 23.33, 23.49, 23.58, 23.69, 23.81, 23.91]),
    (0.5125, [20.40, 20.85, 21.10, 21.31, 21.53, 21.68, 21.86, 21.99, 22.13, 22.26, 22.36, 22.53, 22.63, 22.72,
              22.85, 22.95, 23.10, 23.17, 23.29, 23.44, 23.52, 23.65, 23.76, 23.86, 23.97]),
    (0.4875, [19.61, 20.73, 21.02, 21.21, 21.47, 21.60, 21.80, 21.95, 22.07, 22.17, 22.34, 22.43, 22.56, 22.68,
              22.80, 22.93, 23.04, 23.12, 23.24, 23.36, 23.45, 23.60, 23.71, 23.82, 23.92]),
    (0.4625, [20.05, 20.63, 20.91, 21.29, 21.50, 21.65, 21.84, 21.94, 22.10, 22.23, 22.31, 22.47, 22.59, 22.71,
              22.83, 22.97, 23.06, 23.18, 23.30, 23.41, 23.54, 23.61, 23.74, 23.84, 23.95]),
    (0.4375, [19.72, 20.81, 21.13, 21.36, 21.55, 21.70, 21.79, 21.99, 22.12, 22.20, 22.37, 22.52, 22.61, 22.74,
              22.86, 22.92, 23.08, 23.21, 23.26, 23.37, 23.50, 23.63, 23.70, 23.80, 23.93]),
    (0.4125, [20.29, 20.68, 21.03, 21.24, 21.44, 21.62, 21.82, 21.91, 22.04, 22.19, 22.28, 22.42, 22.55, 22.66,
              22.78, 22.89, 23.02, 23.13, 23.24, 23.34, 23.46, 23.57, 23.68, 23.78, 23.90]),
    (0.3875, [19.54, 20.76, 20.94, 21.18, 21.41, 21.56, 21.74, 21.87, 22.07, 22.15, 22.32, 22.45, 22.54, 22.69,
              22.81, 22.98, 23.06, 23.18, 23.31, 23.40, 23.52, 23.61, 23.73, 23.83, 23.96]),
    (0.3625, [20.22, 20.61, 21.10, 21.31, 21.52, 21.67, 21.83, 21.98, 22.11, 22.25, 22.39, 22.50, 22.62, 22.75,
              22.87, 22.94, 23.10, 23.20, 23.27, 23.43, 23.48, 23.59, 23.75, 23.86, 23.93]),
    (0.3375, [19.93, 20.69, 20.96, 21.26, 21.45, 21.61, 21.77, 21.93, 22.04, 22.21, 22.34, 22.44, 22.57, 22.67,
              22.79, 22.91, 23.05, 23.16, 23.25, 23.35, 23.47, 23.56, 23.69, 23.81, 23.91]),
    (0.3125, [20.46, 20.84, 21.14, 21.35, 21.58, 21.72, 21.88, 22.02, 22.14, 22.27, 22.36, 22.51, 22.64, 22.72,
              22.84, 22.96, 23.09, 23.22, 23.33, 23.44, 23.53, 23.64, 23.77, 23.84, 23.95]),
    (0.2875, [21.16, 21.74, 21.91, 22.08, 22.26, 22.42, 22.55, 22.66, 22.80, 22.90, 23.04, 23.15, 23.27, 23.38,
              23.51, 23.63, 23.75, 23.86, 23.97]),
    (0.2625, [20.96, 21.48, 21.85, 22.04, 22.22, 22.37, 22.51, 22.63, 22.73, 22.87, 22.97, 23.11, 23.21, 23.34,
              23.47, 23.55, 23.70, 23.80, 23.92]),
    (0.2375, [21.31, 21.63, 21.99, 22.12, 22.31, 22.47, 22.59, 22.70, 22.84, 22.95, 23.07, 23.18, 23.31, 23.42,
              23.53, 23.66, 23.78, 23.90]),
    (0.2125, [20.79, 21.77, 21.93, 22.18, 22.34, 22.44, 22.58, 22.69, 22.81, 22.92, 23.05, 23.16, 23.26, 23.39,
              23.50, 23.62, 23.73, 23.84, 23.96]),
    (0.1875, [21.43, 21.86, 22.08, 22.25, 22.40, 22.53, 22.65, 22.76, 22.88, 23.01, 23.13, 23.24, 23.35, 23.48,
              23.59, 23.70, 23.83, 23.93]),
    (0.1625, [21.21, 21.69, 22.01, 22.21, 22.37, 22.48, 22.62, 22.74, 22.86, 22.98, 23.10, 23.21, 23.33, 23.45,
              23.56, 23.67, 23.80, 23.91]),
    (0.1375, [21.58, 21.94, 22.15, 22.33, 22.45, 22.59, 22.71, 22.83, 22.94, 23.07, 23.19, 23.30, 23.42, 23.54,
              23.65, 23.77, 23.88, 23.98]),
    (0.1125, [21.37, 21.85, 22.12, 22.28, 22.42, 22.56, 22.68, 22.80, 22.91, 23.04, 23.16, 23.27, 23.39, 23.51,
              23.62, 23.74, 23.85, 23.96]),
    (0.0875, [21.70, 22.03, 22.24, 22.39, 22.53, 22.65, 22.77, 22.89, 23.01, 23.13, 23.25, 23.36, 23.48, 23.59,
              23.71, 23.83, 23.94]),
    (0.0625, [21.96, 22.21, 22.37, 22.52, 22.63, 22.75, 22.87, 22.99, 23.11, 23.23, 23.34, 23.46, 23.57, 23.69,
              23.80, 23.92]),
    (0.0375, [22.18, 22.43, 22.61, 22.77, 22.91, 23.03, 23.15, 23.27, 23.39, 23.51, 23.62, 23.74, 23.86, 23.97]),
    (0.0125, [22.13, 22.40, 22.59, 22.74, 22.89, 23.02, 23.15, 23.27, 23.39, 23.51, 23.63, 23.75, 23.87, 23.98]),
    (-0.0125, [22.35, 22.65, 22.88, 23.05, 23.21, 23.37, 23.50, 23.62, 23.74, 23.86, 23.96]),
    (-0.0375, [22.54, 22.82, 23.02, 23.18, 23.33, 23.47, 23.59, 23.71, 23.83, 23.94]),
    (-0.0625, [22.69, 22.97, 23.15, 23.30, 23.45, 23.57, 23.69, 23.80, 23.92]),
    (-0.0875, [22.95, 23.23, 23.41, 23.55, 23.67, 23.79, 23.90]),
    (-0.1125, [23.12, 23.38, 23.52, 23.65, 23.77, 23.88, 23.98]),
    (-0.1375, [23.31, 23.50, 23.64, 23.76, 23.87, 23.97]),
    (-0.1625, [23.45, 23.62, 23.75, 23.86, 23.96]),
    (-0.1875, [23.55, 23.72, 23.84, 23.95]),
    (-0.2375, [23.67, 23.81, 23.93]),
    (-0.2875, [23.88, 23.97]),
]

# third pass over the densest corner (r_iso > 21.3)
subaru_rows_c = [
    (1.190, [21.35, 21.58, 21.72, 21.99, 22.16, 22.31, 22.38, 22.54, 22.65, 22.79, 22.85, 23.00, 23.11, 23.19,
             23.33, 23.43, 23.56, 23.73, 23.80]),
    (1.165, [21.44, 21.61, 21.83, 22.05, 22.20, 22.36, 22.45, 22.58, 22.72, 22.78, 22.92, 23.07, 23.14, 23.29,
             23.40, 23.52, 23.61, 23.79, 23.87]),
    (1.140, [21.30, 21.52, 21.69, 21.94, 22.11, 22.24, 22.41, 22.48, 22.63, 22.70, 22.86, 22.97, 23.06, 23.20,
             23.26, 23.41, 23.57, 23.65, 23.83]),
    (1.115, [21.41, 21.67, 21.79, 22.03, 22.22, 22.33, 22.44, 22.60, 22.66, 22.81, 22.88, 23.01, 23.13, 23.24,
             23.38, 23.47, 23.60, 23.71, 23.85, 23.93]),
    (1.090, [21.33, 21.56, 21.76, 21.91, 22.14, 22.28, 22.36, 22.53, 22.67, 22.75, 22.90, 23.02, 23.09, 23.23,
             23.31, 23.45, 23.53, 23.68, 23.78, 23.90]),
    (1.065, [21.49, 21.70, 21.85, 22.09, 22.18, 22.37, 22.46, 22.61, 22.73, 22.84, 22.95, 23.05, 23.18, 23.28,
             23.43, 23.50, 23.62, 23.75, 23.84]),
    (1.040, [21.38, 21.61, 21.80, 21.96, 22.13, 22.27, 22.41, 22.49, 22.64, 22.70, 22.85, 23.03, 23.12, 23.21,
             23.37, 23.45, 23.58, 23.69, 23.82, 23.90]),
    (1.015, [21.45, 21.73, 21.93, 22.06, 22.25, 22.31, 22.47, 22.60, 22.78, 22.89, 22.99, 23.14, 23.24, 23.34,
             23.47, 23.55, 23.66, 23.78, 23.88]),
    (0.990, [21.31, 21.55, 21.74, 21.92, 22.12, 22.21, 22.39, 22.55, 22.62, 22.78, 22.93, 23.02, 23.15, 23.28,
             23.40, 23.50, 23.60, 23.71, 23.82, 23.94]),
    (0.965, [21.48, 21.66, 21.87, 22.03, 22.15, 22.29, 22.42, 22.58, 22.71, 22.81, 22.98, 23.10, 23.23, 23.35,
             23.45, 23.56, 23.70, 23.84, 23.91]),
    (0.940, [21.36, 21.61, 21.78, 21.97, 22.10, 22.25, 22.38, 22.47, 22.60, 22.77, 22.84, 22.95, 23.12, 23.20,
             23.31, 23.44, 23.51, 23.66, 23.79, 23.87]),
    (0.915, [21.52, 21.71, 21.89, 22.07, 22.20, 22.35, 22.43, 22.59, 22.69, 22.83, 22.93, 23.08, 23.17, 23.32,
             23.39, 23.51, 23.62, 23.72, 23.84, 23.95]),
    (0.890, [21.40, 21.57, 21.83, 21.95, 22.16, 22.30, 22.44, 22.52, 22.66, 22.77, 22.91, 23.00, 23.10, 23.25,
             23.36, 23.44, 23.55, 23.71, 23.80, 23.90]),
    (0.865, [21.31, 21.62, 21.81, 22.05, 22.12, 22.23, 22.44, 22.50, 22.70, 22.80, 22.90, 23.02, 23.14, 23.26,
             23.37, 23.52, 23.64, 23.73, 23.85, 23.93]),
    (0.840, [21.43, 21.65, 21.80, 21.98, 22.17, 22.30, 22.42, 22.55, 22.63, 22.79, 22.89, 23.01, 23.16, 23.27,
             23.32, 23.45, 23.58, 23.66, 23.77, 23.89]),
    (0.815, [21.36, 21.54, 21.74, 21.94, 22.14, 22.25, 22.32, 22.50, 22.60, 22.74, 22.86, 22.99, 23.12, 23.23,
             23.35, 23.48, 23.61, 23.70, 23.86, 23.94]),
    (0.790, [21.51, 21.70, 21.85, 22.01, 22.19, 22.29, 22.45, 22.53, 22.71, 22.80, 22.94, 23.04, 23.16, 23.27,
             23.39, 23.50, 23.64, 23.75, 23.84]),
    (0.765, [21.34, 21.60, 21.77, 21.92, 22.08, 22.26, 22.40, 22.56, 22.64, 22.75, 22.89, 23.00, 23.13, 23.22,
             23.36, 23.46, 23.57, 23.68, 23.79, 23.91]),
    (0.740, [21.45, 21.64, 21.88, 22.03, 22.12, 22.33, 22.40, 22.51, 22.69, 22.78, 22.93, 23.05, 23.19, 23.28,
             23.41, 23.48, 23.59, 23.73, 23.83, 23.95]),
    (0.715, [21.39, 21.58, 21.79, 21.97, 22.09, 22.23, 22.36, 22.54, 22.65, 22.79, 22.87, 23.01, 23.14, 23.24,
             23.35, 23.47, 23.59, 23.70, 23.82, 23.92]),
    (0.690, [21.50, 21.69, 21.84, 22.01, 22.15, 22.27, 22.41, 22.50, 22.62, 22.73, 22.89, 22.98, 23.12, 23.21,
             23.38, 23.49, 23.61, 23.72, 23.84, 23.97]),
    (0.665, [21.35, 21.57, 21.76, 21.93, 22.07, 22.21, 22.33, 22.45, 22.58, 22.69, 22.81, 22.93, 23.06, 23.15,
             23.28, 23.43, 23.53, 23.67, 23.78, 23.89]),
    (0.640, [21.47, 21.64, 21.86, 21.99, 22.09, 22.25, 22.36, 22.52, 22.61, 22.72, 22.85, 22.95, 23.09, 23.21,
             23.33, 23.42, 23.55, 23.65, 23.77, 23.88]),
    (0.615, [21.33, 21.56, 21.74, 21.89, 22.04, 22.20, 22.32, 22.44, 22.57, 22.67, 22.79, 22.90, 23.01, 23.15,
             23.25, 23.39, 23.49, 23.61, 23.72, 23.86, 23.93]),
    (0.590, [21.44, 21.62, 21.79, 21.95, 22.14, 22.27, 22.42, 22.51, 22.63, 22.76, 22.86, 22.96, 23.13, 23.20,
             23.36, 23.44, 23.53, 23.66, 23.79, 23.89]),
    (0.565, [21.38, 21.52, 21.76, 21.91, 22.08, 22.18, 22.32, 22.49, 22.57, 22.71, 22.82, 22.94, 23.05, 23.14,
             23.28, 23.37, 23.51, 23.60, 23.71, 23.81, 23.92]),
    (0.540, [21.49, 21.66, 21.82, 21.97, 22.10, 22.24, 22.35, 22.47, 22.61, 22.71, 22.84, 22.96, 23.08, 23.20,
             23.30, 23.45, 23.53, 23.64, 23.78, 23.90]),
    (0.515, [21.35, 21.59, 21.77, 21.92, 22.07, 22.21, 22.31, 22.44, 22.58, 22.67, 22.81, 22.91, 23.04, 23.15,
             23.23, 23.39, 23.47, 23.60, 23.71, 23.81, 23.94]),
    (0.490, [21.45, 21.65, 21.85, 21.99, 22.12, 22.29, 22.41, 22.52, 22.65, 22.75, 22.87, 23.00, 23.10, 23.26,
             23.35, 23.51, 23.64, 23.74, 23.87, 23.96]),
    (0.465, [21.39, 21.57, 21.77, 21.89, 22.06, 22.17, 22.36, 22.44, 22.56, 22.69, 22.79, 22.92, 23.03, 23.13,
             23.24, 23.36, 23.47, 23.58, 23.70, 23.82, 23.91]),
    (0.440, [21.48, 21.62, 21.84, 21.95, 22.09, 22.24, 22.30, 22.47, 22.59, 22.70, 22.83, 22.96, 23.06, 23.17,
             23.32, 23.43, 23.55, 23.66, 23.75, 23.88]),
    (0.415, [21.34, 21.53, 21.73, 21.88, 22.12, 22.22, 22.34, 22.47, 22.61, 22.71, 22.85, 22.94, 23.07, 23.19,
             23.30, 23.39, 23.51, 23.63, 23.74, 23.85, 23.94]),
    (0.390, [21.46, 21.64, 21.80, 21.97, 22.04, 22.19, 22.37, 22.51, 22.58, 22.73, 22.84, 22.96, 23.02, 23.14,
             23.25, 23.35, 23.49, 23.59, 23.68, 23.78, 23.89]),
    (0.365, [21.37, 21.57, 21.74, 21.90, 22.13, 22.29, 22.42, 22.53, 22.66, 22.77, 22.90, 23.01, 23.12, 23.25,
             23.38, 23.48, 23.62, 23.71, 23.81, 23.92]),
    (0.340, [21.50, 21.63, 21.83, 21.99, 22.09, 22.24, 22.36, 22.48, 22.60, 22.74, 22.87, 22.99, 23.10, 23.21,
             23.33, 23.44, 23.55, 23.67, 23.79, 23.90]),
    (0.315, [21.40, 21.59, 21.77, 21.94, 22.04, 22.19, 22.33, 22.45, 22.56, 22.69, 22.80, 22.92, 23.04, 23.14,
             23.26, 23.41, 23.51, 23.61, 23.73, 23.83, 23.96]),
    (0.290, [21.55, 21.69, 21.87, 22.04, 22.16, 22.30, 22.41, 22.53, 22.63, 22.76, 22.88, 22.97, 23.09, 23.19,
             23.31, 23.44, 23.56, 23.69, 23.79, 23.92]),
    (0.265, [21.60, 21.79, 21.92, 22.09, 22.27, 22.34, 22.48, 22.60, 22.70, 22.83, 22.94, 23.03, 23.18, 23.29,
             23.40, 23.50, 23.62, 23.73, 23.84, 23.95]),
    (0.240, [21.71, 21.86, 22.00, 22.18, 22.28, 22.39, 22.50, 22.65, 22.77, 22.86, 22.99, 23.10, 23.20, 23.34,
             23.45, 23.56, 23.68, 23.80, 23.90]),
    (0.215, [21.66, 21.81, 21.96, 22.11, 22.26, 22.38, 22.49, 22.61, 22.73, 22.84, 22.96, 23.07, 23.18, 23.30,
             23.41, 23.54, 23.65, 23.77, 23.88, 23.97]),
    (0.190, [21.78, 21.94, 22.13, 22.22, 22.35, 22.45, 22.58, 22.70, 22.82, 22.93, 23.05, 23.17, 23.27, 23.40,
             23.51, 23.62, 23.74, 23.86, 23.94]),
    (0.165, [21.84, 22.04, 22.18, 22.30, 22.41, 22.54, 22.66, 22.78, 22.90, 23.02, 23.14, 23.26, 23.37, 23.49,
             23.60, 23.71, 23.83, 23.93]),
    (0.140, [21.90, 22.08, 22.21, 22.34, 22.47, 22.61, 22.72, 22.81, 22.95, 23.06, 23.18, 23.29, 23.41, 23.53,
             23.64, 23.75, 23.87, 23.97]),
    (0.115, [22.01, 22.16, 22.32, 22.45, 22.58, 22.70, 22.83, 22.94, 23.06, 23.19, 23.30, 23.43, 23.55, 23.66,
             23.79, 23.90]),
    (0.090, [22.10, 22.27, 22.42, 22.55, 22.68, 22.80, 22.91, 23.03, 23.16, 23.28, 23.40, 23.52, 23.63, 23.75,
             23.86, 23.96]),
    (0.065, [22.24, 22.39, 22.49, 22.61, 22.73, 22.85, 22.97, 23.08, 23.21, 23.32, 23.44, 23.55, 23.68, 23.79,
             23.91]),
    (0.040, [22.31, 22.47, 22.62, 22.77, 22.90, 23.02, 23.14, 23.25, 23.37, 23.49, 23.60, 23.72, 23.84, 23.94]),
    (0.015, [22.45, 22.60, 22.76, 22.92, 23.05, 23.18, 23.31, 23.43, 23.54, 23.66, 23.78, 23.90]),
    (-0.010, [22.57, 22.72, 22.86, 23.00, 23.12, 23.25, 23.38, 23.53, 23.63, 23.76, 23.87, 23.97]),
    (-0.035, [22.75, 22.96, 23.09, 23.23, 23.37, 23.49, 23.61, 23.74, 23.85, 23.95]),
    (-0.060, [22.84, 23.07, 23.26, 23.40, 23.56, 23.68, 23.81, 23.91]),
]

all_rows = subaru_rows + subaru_rows_b + subaru_rows_c
sub_r = [p[0] for p in subaru_pts] + [x for y, xs in all_rows for x in xs]
sub_gr = [p[1] for p in subaru_pts] + [y for y, xs in all_rows for x in xs]

plt.rcParams['font.family'] = ['DejaVu Sans']
plt.rcParams['mathtext.fontset'] = 'cm'

fig = plt.figure(figsize=(12.61, 9.46), dpi=100)
ax = fig.add_axes([0.1792, 0.1649, 0.7565, 0.7537])

ax.plot(sub_r, sub_gr, ls='none', marker='s', ms=3.6, mew=0, color='black',
        antialiased=False, label='Subaru Object', zorder=1)
box = plt.Polygon(list(zip(box_r, box_gr)), closed=True, fill=False, ec='red', lw=5,
                  joinstyle='miter', zorder=2)
ax.add_patch(box)
ax.plot(deimos_r, deimos_gr, ls='none', marker='o', ms=10.5, mew=0, color='#008000',
        label='DEIMOS\nCluster Galaxy', zorder=3)

ax.set_xlim(14, 24)
ax.set_ylim(-0.5, 2.5)
ax.set_xticks([14, 16, 18, 20, 22, 24])
ax.set_yticks([-0.5, 0.0, 0.5, 1.0, 1.5, 2.0, 2.5])
ax.tick_params(direction='in', top=True, right=True, length=10.5, width=1.4,
               labelsize=25, pad=8)
for s in ax.spines.values():
    s.set_linewidth(2)

ax.set_xlabel(r'$\mathrm{r_{iso}}$', fontsize=38, labelpad=6)
ax.set_ylabel(r'$\mathrm{g}$' + '\u2013' + r'$\mathrm{r}$', fontsize=38, labelpad=10)

leg = ax.legend(loc='upper left', numpoints=1, fontsize=33.7, fancybox=False,
                framealpha=1, edgecolor='black', borderaxespad=0.5, markerscale=1)
leg.get_frame().set_linewidth(2)

fig.savefig('out.png', dpi=100)
